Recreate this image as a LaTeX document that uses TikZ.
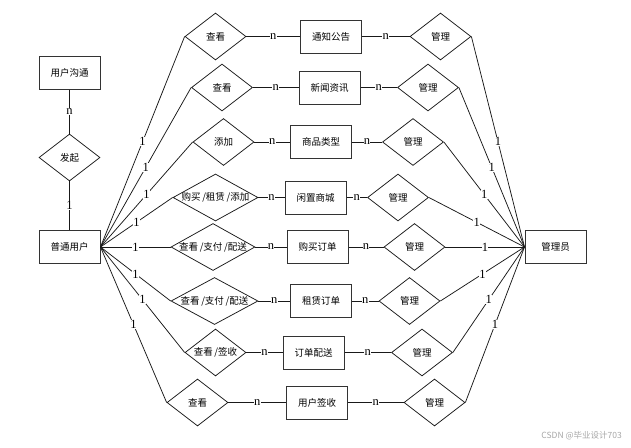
\documentclass[tikz,border=0pt]{standalone}
\usepackage{fontspec}
\setmainfont{Liberation Serif}
\newfontfamily\cjk{Noto Sans CJK SC}
\usetikzlibrary{shapes.geometric}
\tikzset{
  entbox/.style={draw=black!80, line width=1pt, minimum width=61pt, minimum height=33pt, inner sep=0pt, font=\cjk\fontsize{9.5}{11}\selectfont},
  relbox/.style={diamond, draw=black!90, line width=0.75pt, minimum height=47pt, inner sep=0pt, font=\cjk\fontsize{9.5}{11}\selectfont},
  conn/.style={draw=black!90, line width=0.75pt},
  card/.style={fill=white, inner sep=0.3pt, font=\fontsize{12.5}{13}\selectfont}
}
\newcommand{\zt}[1]{\makebox[0pt]{#1}}
\begin{document}
\begin{tikzpicture}[x=1pt,y=-1pt]
\useasboundingbox (0,0) rectangle (631,447);
% left column
\node[entbox] (gt) at (69.5,72.5) {用户沟通};
\node[relbox, minimum width=61pt] (fq) at (69.5,157.5) {\zt{发起}};
\node[entbox] (user) at (69.5,247) {普通用户};
\node[entbox] (admin) at (555.5,247) {管理员};
\draw[conn] (gt) -- node[card]{n} (fq);
\draw[conn] (fq) -- node[card]{1} (user);
% rows
\foreach \i/\y/\lt/\lx/\lw/\bt/\bx/\mx in {
  1/36.5/{查看}/215.5/61/通知公告/331/440.5,
  2/87.5/{查看}/222/61/新闻资讯/329.5/428,
  3/142/{添加}/223.5/61/商品类型/321/413,
  4/197.5/{购买\,/租赁\,/添加}/215.5/85/闲置商城/315.5/398,
  5/247/{查看\,/支付\,/配送}/213/84/购买订单/317.5/414.5,
  6/301/{查看\,/支付\,/配送}/214.5/87/租赁订单/321/409.5,
  7/352.5/{查看\,/签收}/215.5/61/订单配送/313.5/422,
  8/402.5/{查看}/197.5/61/用户签收/317/434.5}{
  \node[relbox, minimum width=\lw pt] (l\i) at (\lx,\y) {\zt{\lt}};
  \node[entbox] (e\i) at (\bx,\y) {\bt};
  \node[relbox, minimum width=61pt] (m\i) at (\mx,\y) {\zt{管理}};
  \draw[conn] (l\i.east) -- node[card]{n} (e\i.west);
  \draw[conn] (e\i.east) -- node[card]{n} (m\i.west);
  \draw[conn] (user.east) -- node[card]{1} (l\i.west);
  \draw[conn] (admin.west) -- node[card]{1} (m\i.east);
}
\node[font=\cjk\fontsize{8.5}{10}\selectfont, text=black!35, anchor=east, inner sep=0pt] (wm) at (622,436) {CSDN @毕业设计703};
\end{tikzpicture}
\end{document}
